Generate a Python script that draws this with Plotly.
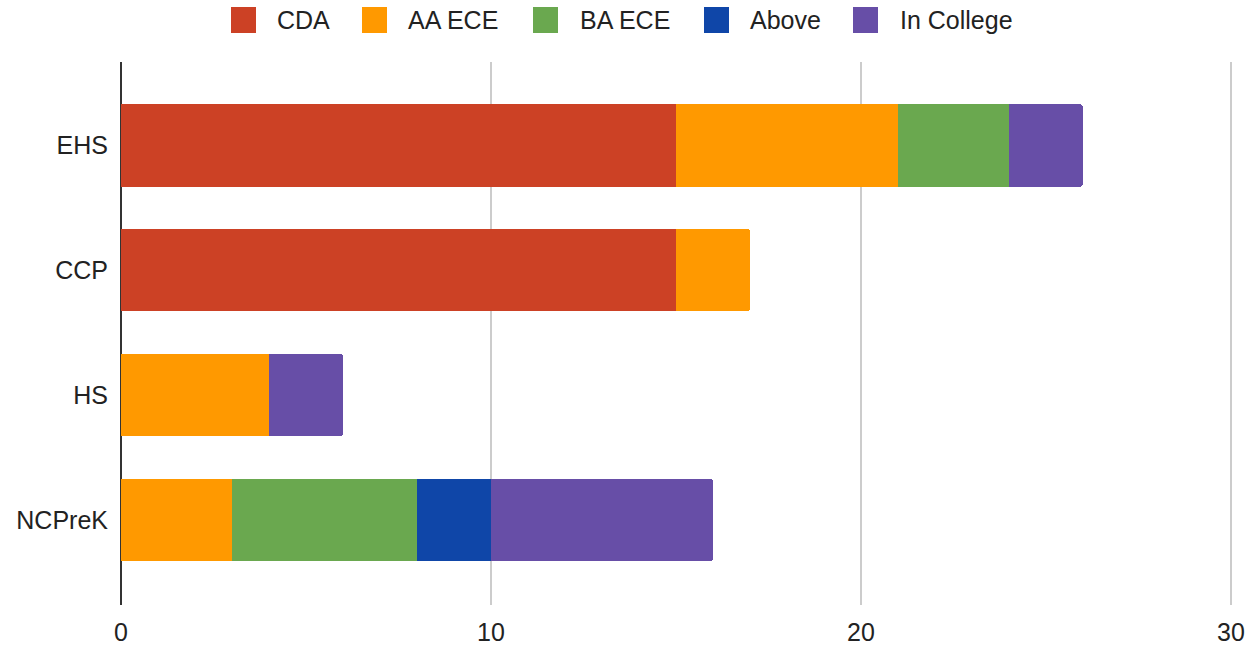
import plotly.graph_objects as go

# Staff credentials by program
programs = ["EHS", "CCP", "HS", "NCPreK"]
series_names = ["CDA", "AA ECE", "BA ECE", "Above", "In College"]
cda = [15, 15, 0, 0]
aa_ece = [6, 2, 4, 3]
ba_ece = [3, 0, 0, 5]
above = [0, 0, 0, 2]
in_college = [2, 0, 2, 6]
series_values = [cda, aa_ece, ba_ece, above, in_college]
colors = ["#cc4125", "#ff9900", "#6aa84f", "#0f46a8", "#674ea7"]
x_ticks = [0, 10, 20, 30]

W, H = 1251, 646
ML, MR, MT, MB = 121, 19, 62, 41
PW, PH = W - ML - MR, H - MT - MB
FONT = "Liberation Sans, Arial, sans-serif"


def px_x(px):
    return (px - ML) / PW


def px_y(py):
    return (H - MB - py) / PH


fig = go.Figure()
for name, vals, col in zip(series_names, series_values, colors):
    fig.add_trace(go.Bar(
        y=programs, x=vals, name=name, orientation="h",
        marker=dict(color=col, line=dict(width=0)),
        showlegend=False,
    ))

# Legend drawn along the top: swatch + label for each series
legend_pos = [(231, 275), (362, 406), (533, 578), (704, 748), (853, 898)]
shapes = []
annotations = []
for (sx, tx), name, col in zip(legend_pos, series_names, colors):
    shapes.append(dict(
        type="rect", xref="paper", yref="paper",
        x0=px_x(sx), x1=px_x(sx + 25), y0=px_y(33), y1=px_y(7),
        fillcolor=col, line=dict(width=0),
    ))
    annotations.append(dict(
        xref="paper", yref="paper", x=px_x(tx), y=px_y(20),
        xanchor="left", yanchor="middle", showarrow=False,
        text=name, font=dict(family=FONT, size=25, color="#222222"),
    ))

fig.update_layout(
    width=W, height=H,
    margin=dict(l=ML, r=MR, t=MT, b=MB, pad=0, autoexpand=False),
    barmode="stack", bargap=0.34, barcornerradius=3,
    plot_bgcolor="white", paper_bgcolor="white",
    font=dict(family=FONT, size=25, color="#222222"),
    shapes=shapes, annotations=annotations,
    xaxis=dict(
        range=[0, 30.03], tickvals=x_ticks, showgrid=True,
        gridcolor="#cccccc", gridwidth=1.5,
        zeroline=True, zerolinecolor="#333333", zerolinewidth=1.5,
        showline=False, ticks="", ticklabelstandoff=10, automargin=False,
        tickfont=dict(size=25, color="#222222"),
    ),
    yaxis=dict(
        type="category", categoryorder="array", categoryarray=programs,
        range=[3.682, -0.669], showgrid=False, zeroline=False,
        showline=False, ticks="", ticklabelstandoff=12, automargin=False,
        tickfont=dict(size=25, color="#222222"),
    ),
)

fig.write_html("out.html")
